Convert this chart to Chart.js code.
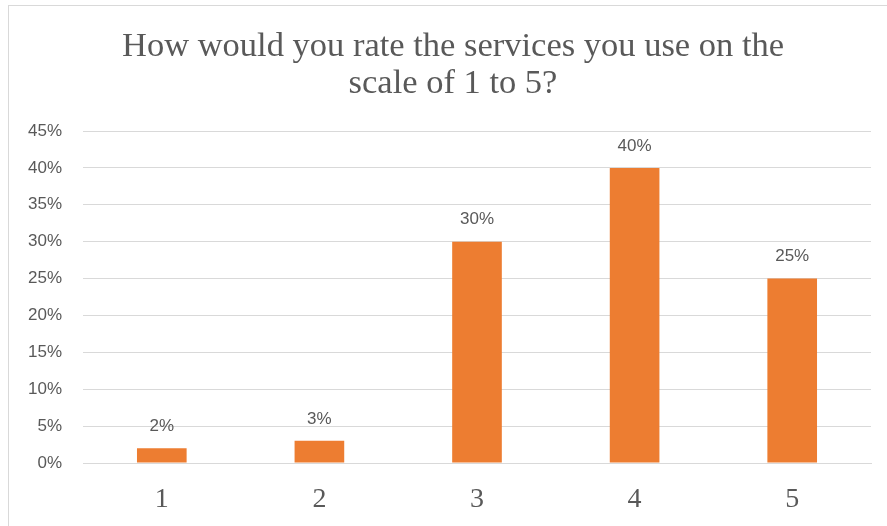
<!DOCTYPE html>
<html>
<head>
<meta charset="utf-8">
<script src="https://cdn.jsdelivr.net/npm/chart.js@4.4.1/dist/chart.umd.min.js"></script>
<style>
  html, body { margin: 0; padding: 0; background: #fff; }
  #wrap { position: relative; width: 887px; height: 526px; }
</style>
</head>
<body>
<div id="wrap"><canvas id="chart" width="887" height="526"></canvas></div>
<script>
// Rating scale and share of answers (%)
var ratings = ['1', '2', '3', '4', '5'];
var shares = [2, 3, 30, 40, 25];
var titleLines = ['How would you rate the services you use on the', 'scale of 1 to 5?'];

// Frame around the chart and the two-line title (Excel style, centred a bit left of the plot)
var framePlugin = {
    id: 'frame',
    beforeDraw: function (chart) {
        var ctx = chart.ctx;
        ctx.save();
        ctx.strokeStyle = '#d9d9d9';
        ctx.lineWidth = 1;
        ctx.strokeRect(8.5, 5.5, 950, 600);
        ctx.font = '34.5px "Liberation Serif"';
        ctx.fillStyle = '#595959';
        ctx.textAlign = 'center';
        ctx.textBaseline = 'middle';
        ctx.fillText(titleLines[0], 453, 47);
        ctx.fillText(titleLines[1], 453, 84);
        ctx.restore();
    }
};

// Value labels above each bar
var valueLabels = {
    id: 'valueLabels',
    afterDatasetsDraw: function (chart) {
        var ctx = chart.ctx;
        var meta = chart.getDatasetMeta(0);
        ctx.save();
        ctx.font = '17px "Liberation Sans"';
        ctx.fillStyle = '#595959';
        ctx.textAlign = 'center';
        ctx.textBaseline = 'middle';
        meta.data.forEach(function (bar, i) {
            ctx.fillText(shares[i] + '%', bar.x, bar.y - 22);
        });
        ctx.restore();
    }
};

var chart = new Chart(document.getElementById('chart'), {
    type: 'bar',
    data: {
        labels: ratings,
        datasets: [{
            data: shares,
            backgroundColor: '#ed7d31',
            barPercentage: 0.45,
            categoryPercentage: 0.7
        }]
    },
    options: {
        responsive: false,
        animation: false,
        layout: { padding: { left: 0, right: 16, top: 131, bottom: 0 } },
        plugins: {
            legend: { display: false },
            tooltip: { enabled: false },
            title: { display: false }
        },
        scales: {
            x: {
                afterFit: function (axis) { axis.height = 63; },
                grid: { display: false, drawTicks: false },
                border: { display: true, color: '#d9d9d9' },
                ticks: {
                    color: '#595959',
                    padding: 20,
                    font: { family: '"Liberation Serif"', size: 28 }
                }
            },
            y: {
                min: 0,
                max: 45,
                afterFit: function (axis) { axis.width = 83; },
                border: { display: false },
                grid: { color: '#d9d9d9', drawTicks: false },
                ticks: {
                    stepSize: 5,
                    color: '#595959',
                    padding: 21,
                    font: { family: '"Liberation Sans"', size: 17 },
                    callback: function (v) { return v + '%'; }
                }
            }
        }
    },
    plugins: [framePlugin, valueLabels]
});
</script>
</body>
</html>
